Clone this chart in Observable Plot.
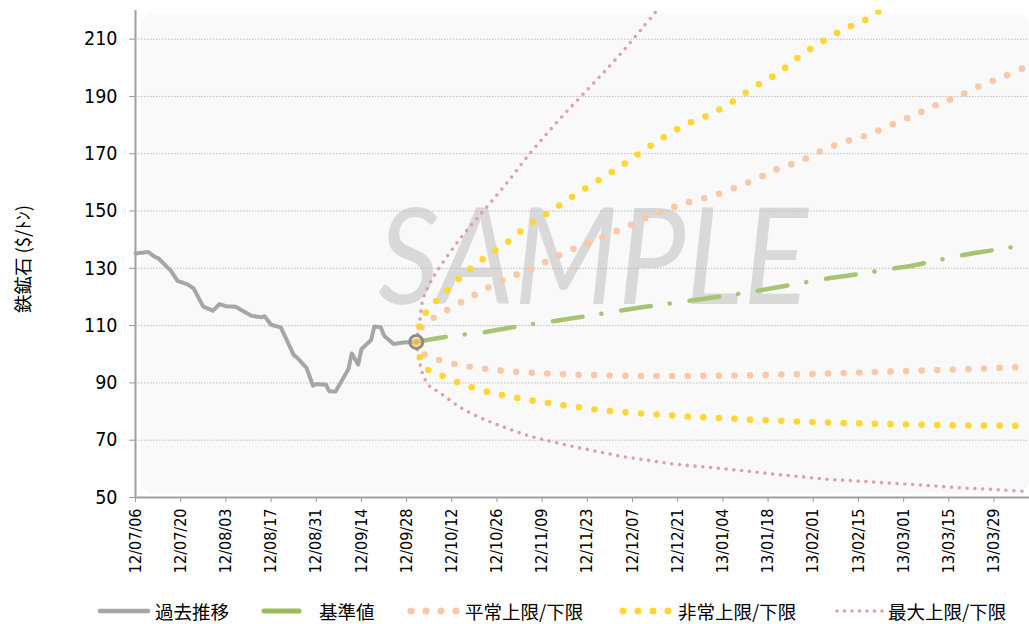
<!DOCTYPE html>
<html><head><meta charset="utf-8">
<script src="https://cdn.jsdelivr.net/npm/d3@7"></script>
<script src="https://cdn.jsdelivr.net/npm/@observablehq/plot@0.6"></script>
<style>
body{margin:0;background:#fff;}
#wrap{position:relative;width:1029px;height:624px;overflow:hidden;}
#legend{position:absolute;left:0;top:590px;}
</style>
</head><body><div id="wrap"></div>
<script>
// ---------- data ----------
const histDates = ["2012-07-06","2012-07-10","2012-07-12","2012-07-13","2012-07-17","2012-07-19","2012-07-22","2012-07-24","2012-07-26","2012-07-27","2012-07-30","2012-08-01","2012-08-03","2012-08-06","2012-08-09","2012-08-11","2012-08-14","2012-08-15","2012-08-17","2012-08-20","2012-08-22","2012-08-24","2012-08-25","2012-08-28","2012-08-30","2012-08-31","2012-09-03","2012-09-04","2012-09-06","2012-09-10","2012-09-11","2012-09-13","2012-09-14","2012-09-17","2012-09-18","2012-09-20","2012-09-21","2012-09-24","2012-09-27","2012-10-01"];
const histValues = [135.2,135.7,134.0,133.6,129.1,125.6,124.5,123.0,118.7,116.6,115.2,117.5,116.8,116.6,114.7,113.4,112.9,113.3,110.3,109.4,104.7,99.8,98.9,95.2,89.0,89.6,89.4,87.1,87.0,94.9,100.3,96.4,101.8,105.0,109.7,109.4,106.5,103.6,104.1,104.3];

const fcDates = ["2012-10-01","2012-10-02","2012-10-03","2012-10-05","2012-10-08","2012-10-15","2012-10-22","2012-10-29","2012-11-05","2012-11-12","2012-11-19","2012-11-26","2012-12-03","2012-12-10","2012-12-17","2012-12-24","2012-12-31","2013-01-07","2013-01-14","2013-01-21","2013-01-28","2013-02-04","2013-02-11","2013-02-18","2013-02-25","2013-03-04","2013-03-11","2013-03-18","2013-03-25","2013-04-01","2013-04-08"];
const baseValues   = [104.3,104.5,104.7,105.1,105.7,106.8,107.7,109.1,110.4,111.5,112.7,113.9,115.2,116.4,117.5,118.6,119.7,120.8,122.0,123.4,124.8,126.2,127.3,128.5,129.8,131.0,132.7,134.3,135.7,136.9,138.3];
const normalUpper  = [104.3,108.0,110.0,111.8,113.8,118.2,122.5,126.5,129.4,133.3,136.9,140.1,143.4,147.0,150.2,153.0,155.0,157.8,161.0,164.7,167.4,171.3,174.2,176.6,180.0,183.3,187.0,190.1,193.9,196.9,200.4];
const normalLower  = [104.3,101.5,100.3,99.2,98.0,96.1,95.0,94.1,93.6,93.2,92.9,92.7,92.5,92.4,92.4,92.4,92.5,92.6,92.7,92.9,93.0,93.2,93.5,93.7,94.0,94.2,94.5,94.7,95.0,95.3,95.6];
const extremeUpper = [104.3,110.0,112.7,116.0,119.5,127.2,133.5,138.9,145.3,150.2,155.5,160.4,165.4,170.8,176.0,180.4,183.7,188.2,193.5,198.1,204.2,209.3,213.7,217.2,223.0,null,null,null,null,null,null];
const extremeLower = [104.3,99.3,96.7,94.3,93.0,89.7,87.2,85.4,84.0,82.8,81.7,80.7,79.9,79.3,78.8,78.3,77.9,77.5,77.1,76.8,76.5,76.2,76.0,75.8,75.6,75.4,75.3,75.2,75.1,75.1,75.0];
const maxUpper     = [104.3,111.0,118.8,124.3,130.0,140.9,150.3,159.7,169.8,179.0,187.6,195.9,204.5,213.8,223.4,null,null,null,null,null,null,null,null,null,null,null,null,null,null,null,null];
const maxLower     = [104.3,97.5,93.1,89.0,86.8,81.2,77.3,74.2,71.5,69.5,67.7,66.1,64.5,63.3,62.1,61.2,60.5,59.7,58.9,58.0,57.3,56.5,56.0,55.5,55.0,54.5,54.0,53.4,53.0,52.6,52.1];

const xTickLabels = ["12/07/06","12/07/20","12/08/03","12/08/17","12/08/31","12/09/14","12/09/28","12/10/12","12/10/26","12/11/09","12/11/23","12/12/07","12/12/21","13/01/04","13/01/18","13/02/01","13/02/15","13/03/01","13/03/15","13/03/29"];
const yTicks = [50,70,90,110,130,150,170,190,210];
const xDomain = ["2012-07-06","2013-04-09"];
const yDomain = [50,220];
const yLabel = "鉄鉱石 ($/ﾄﾝ)";
const legendLabels = ["過去推移","基準値","平常上限/下限","非常上限/下限","最大上限/下限"];

// ---------- build ----------
const parse = d3.utcParse("%Y-%m-%d");
const parseTick = d3.utcParse("%y/%m/%d");
const hist = histDates.map((d,i)=>({date:parse(d), value:histValues[i]}));
const series = vals => fcDates.map((d,i)=>({date:parse(d), value:vals[i]})).filter(d=>d.value!=null);
const last = hist[hist.length-1];

const C = {hist:"#a6a6a6", base:"#a8c473", normal:"#f8c9a8", extreme:"#ffd633", max:"#dba3a3"};
const dotLine = (data, color, w, gap) => Plot.line(data, {x:"date", y:"value", stroke:color, strokeWidth:w,
  strokeDasharray:`0 ${gap}`, strokeLinecap:"round", curve:"catmull-rom", clip:true});

const plot = Plot.plot({
  width:1029, height:590,
  marginLeft:135, marginRight:0, marginTop:10, marginBottom:93,
  style:{fontFamily:"'Liberation Sans Narrow','Arial Narrow','DejaVu Sans Condensed',sans-serif", color:"#000", background:"transparent", overflow:"visible"},
  x:{type:"utc", domain:xDomain.map(parse)},
  y:{domain:yDomain},
  marks:[
    Plot.frame({fill:"#f9f9f9", stroke:"none", rx:14, insetLeft:5, insetTop:3, insetBottom:4}),
    Plot.gridY({ticks:yTicks.slice(1), stroke:"#bdbdbd", strokeOpacity:1, strokeDasharray:"1.5,1.5"}),
    Plot.axisY({ticks:yTicks, tickSize:6, tickPadding:12, fontSize:19.5, label:null, stroke:"#999"}),
    Plot.axisX({ticks:xTickLabels.map(parseTick), tickSize:5, tickPadding:6, tickRotate:-90,
      tickFormat:d3.utcFormat("%y/%m/%d"), fontSize:16, label:null, stroke:"#999"}),
    Plot.ruleX([parse(xDomain[0])], {stroke:"#a0a0a0", strokeWidth:2}),
    Plot.ruleY([yDomain[0]], {stroke:"#a0a0a0", strokeWidth:2}),
    Plot.line(hist, {x:"date", y:"value", stroke:C.hist, strokeWidth:4, strokeLinejoin:"round"}),
    dotLine(series(maxUpper), C.max, 3.6, 7.8),
    dotLine(series(maxLower), C.max, 3.6, 7.8),
    dotLine(series(normalUpper), C.normal, 6.6, 15.6),
    dotLine(series(normalLower), C.normal, 6.6, 15.6),
    dotLine(series(extremeUpper), C.extreme, 6.6, 15.6),
    dotLine(series(extremeLower), C.extreme, 6.6, 15.6),
    Plot.line(series(baseValues), {x:"date", y:"value", stroke:C.base, strokeWidth:4.5,
      strokeDasharray:"30,19,0.1,20", strokeLinecap:"round", curve:"catmull-rom"}),
    Plot.dot([last], {x:"date", y:"value", r:6.5, fill:"none", stroke:"#8c8c8c", strokeWidth:3}),
    Plot.dot([last], {x:"date", y:"value", r:3.2, fill:"#e2a4a2", stroke:C.extreme, strokeWidth:1.6})
  ]
});

const NS = "http://www.w3.org/2000/svg";
// watermark behind the series
const frameRect = plot.querySelector("rect");
const wm = document.createElementNS(NS, "text");
wm.textContent = "SAMPLE";
wm.setAttribute("x", 378); wm.setAttribute("y", 304);
wm.setAttribute("text-anchor", "start");
wm.setAttribute("font-family", "Lato, 'Open Sans', sans-serif");
wm.setAttribute("font-style", "italic");
wm.setAttribute("font-size", 134);
wm.setAttribute("fill", "#d9d9d9");
wm.setAttribute("textLength", 430);
wm.setAttribute("lengthAdjust", "spacingAndGlyphs");
frameRect.parentNode.insertBefore(wm, frameRect.nextSibling);

// y title
const yt = document.createElementNS(NS, "text");
yt.textContent = yLabel;
yt.setAttribute("transform", "translate(22,259) rotate(-90)");
yt.setAttribute("text-anchor", "middle");
yt.setAttribute("dominant-baseline", "central");
yt.setAttribute("font-family", "'Noto Sans CJK JP', sans-serif");
yt.setAttribute("font-size", 18.5);
yt.setAttribute("fill", "#000");
plot.appendChild(yt);

const wrap = document.getElementById("wrap");
wrap.appendChild(plot);

// legend
const lg = d3.select(wrap).append("svg").attr("id","legend").attr("width",1029).attr("height",34);
const cy = 21;
const tf = t => t.attr("font-family","'Noto Sans CJK JP', sans-serif").attr("font-size",18.5).attr("fill","#000").attr("dominant-baseline","central");
lg.append("line").attr("x1",100).attr("x2",148).attr("y1",cy).attr("y2",cy).attr("stroke",C.hist).attr("stroke-width",4.5).attr("stroke-linecap","round");
tf(lg.append("text").attr("x",155).attr("y",cy).text(legendLabels[0]));
lg.append("line").attr("x1",264).attr("x2",299).attr("y1",cy).attr("y2",cy).attr("stroke","#9bbb59").attr("stroke-width",5).attr("stroke-linecap","round");
tf(lg.append("text").attr("x",319).attr("y",cy).text(legendLabels[1]));
[411,426,441,456].forEach(x=>lg.append("circle").attr("cx",x).attr("cy",cy).attr("r",3.6).attr("fill",C.normal));
tf(lg.append("text").attr("x",465).attr("y",cy).text(legendLabels[2]));
[623,638,653,668].forEach(x=>lg.append("circle").attr("cx",x).attr("cy",cy).attr("r",3.6).attr("fill",C.extreme));
tf(lg.append("text").attr("x",678).attr("y",cy).text(legendLabels[3]));
[837,844.5,852,859.5,867,874.5,882].forEach(x=>lg.append("circle").attr("cx",x).attr("cy",cy).attr("r",1.8).attr("fill",C.max));
tf(lg.append("text").attr("x",888).attr("y",cy).text(legendLabels[4]));
</script>
</body></html>
